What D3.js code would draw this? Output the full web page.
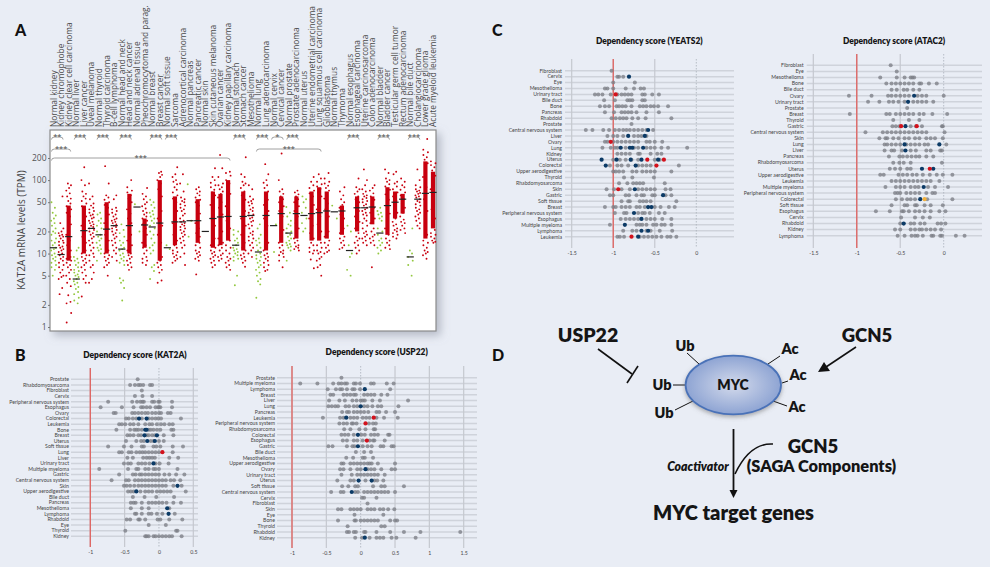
<!DOCTYPE html>
<html>
<head>
<meta charset="utf-8">
<script src="https://cdnjs.cloudflare.com/ajax/libs/d3/7.8.5/d3.min.js"></script>
<style>
html, body { margin: 0; padding: 0; background: #e9edf5; }
svg { display: block; }
</style>
</head>
<body>
<div id="chart"></div>
<script>
// --- panel A: KAT2A mRNA by tissue
var groupNames = ["Normal kidney","Kidney chromophobe","Kidney clear cell carcinoma","Normal liver","Liver cancer","Uveal melanoma","Normal thyroid","Thyroid carcinoma","B-cell lymphoma","Normal head and neck","Head and neck cancer","Normal adrenal tissue","Pheochromocytoma and parag.","Normal breast","Breast cancer","Normal soft tissue","Sarcoma","Adrenocortical carcinoma","Normal pancreas","Pancreatic cancer","Normal skin","Skin cutaneous melanoma","Ovarian cancer","Kidney papillary carcinoma","Normal stomach","Stomach cancer","Mesothelioma","Normal lung","Lung adenocarcinoma","Normal cervix","Cervical cancer","Normal prostate","Prostate adenocarcinoma","Normal uterus","Uterine endometrial carcinoma","Lung squamous cell carcinoma","Glioblastoma","Normal thymus","Thymoma","Normal esophagus","Esophageal carcinoma","Uterine carcinosarcoma","Colon adenocarcinoma","Normal bladder","Bladder cancer","Testicular germ cell tumor","Rectum adenocarcinoma","Normal bile duct","Cholangiocarcinoma","Lower grade glioma","Acute myeloid leukemia"];
var medians = [12,9.7,17,4.5,20.5,22,18,21.5,24,11.5,24,43,24.5,23,26,12,27,27,28,28,20,30,31.5,32,13,32,33,10.5,33,24,35,19,35,33,35,36,38,37,38,11,42,42,43,19,45,50,55,9,55,66,68];
// densest part of each strip (null where the dots stay separate)
var coreLow = [null,null,8,null,10,null,null,10,null,null,10,null,12,null,8,null,13,null,null,14,null,12,13,15,null,11,null,null,11,null,14,null,16,null,15,15,16,null,18,null,20,null,25,null,18,30,35,null,null,16,22];
var coreHigh = [null,null,45,null,45,null,null,50,null,null,65,null,30,null,100,null,60,null,null,55,null,70,65,100,null,70,null,null,70,null,60,null,60,null,70,80,70,null,45,null,60,null,60,null,80,70,65,null,null,180,130];
var strayValues = [
  [50,42,36,33,30,28,26,24,22,20,19,18,16,15,14,13,12,11.5,11,10,9.5,9,8.5,8,7.5,7,6.5,6,5],
  [60,26,22,20,19,18,17.5,17,16,15,14.5,14,13,12.5,12,11.5,11,10.5,10,9.5,9,8.5,8,7.5,7,6.5,6,5.5,5,4.8,4.5,3.4,2.8],
  [90,85,78,72,66,60,56,52,48,44,40,36,32,28,25,22,18,15,13,11,10,9,8.5,8,7.5,7,6.5,6,5.5,5,4.5,4,3.6,2.7,2.2,2.1,1.55,1.15],
  [12,11,9,8.5,8,7.5,7,6.5,6,5.8,5.5,5.2,5,4.8,4.5,4.2,4,3.8,3.5,3.3,3,2.8,2.5,2.3,2.1],
  [150,100,85,70,65,60,56,52,48,44,40,36,32,28,24,20,17,14,12,11,10,9.5,9,8.5,8,7.5,7,6.5,6,5.5,5,4.5,4,2.6],
  [90,60,55,48,45,42,40,38,36,34,33,31,30,28,27,26,25,24,23,22,21,20,19,18,17,16,15,14,13,12,11,10,9.5,9,8,7,6.5,5.5,4.5,4],
  [36,34,30,28,26,24,22,20,18,17,16,15,14,13,12,11.5,11,10,8],
  [155,90,62,58,54,50,46,42,38,34,30,26,22,18,15,13,11,10,9.5,9,8.5,8,7.5,7,6.5,5],
  [62,55,42,40,38,36,34,32,30,29,28,27,26,25,24,23,22,21,20,19,18,17,16,15,14,13,12,11,10,9,8],
  [25,21,19,17,15,14,13,12,11.5,11,10,9.5,9,8.5,8,7.5,7,4.6,4.3,4,3.4,2.3],
  [100,80,72,68,62,56,50,45,40,35,30,26,22,18,15,13,11,10,9.5,9,8.5,8,7.5,7,6.5,6],
  [47,20],
  [78,65,60,55,50,47,44,41,38,36,34,32,30,28,25,22,20,18,16,14,13,12,11,10,9,8.5,8,7.5,7],
  [54,50,46,42,38,36,34,32,30,28,26,24,22,20,18,16,14,13,12,11,10,7,6.5,5.8,4.5],
  [130,125,118,110,100,90,75,60,48,38,30,24,18,14,11,9,8,7.5,7,6.5,6,5.5,4.3,4],
  [13,11.5],
  [150,120,110,100,95,88,80,74,68,62,56,50,44,38,32,26,22,18,15,13,12,11,10.5,10,9.5,9,8.5,8,7.5],
  [120,90,70,58,55,52,50,47,45,42,40,38,35,33,30,28,27,26,25,24,23,22,21,20,19,18,17,16,15,14,13,12,10,9,7],
  [88,28,17],
  [80,75,70,66,62,58,54,50,45,40,35,30,26,22,19,17,15,14,13,12,11,10.5,10,9.5,9,8.5,8,5.2],
  [],
  [145,110,100,92,85,80,74,68,62,54,46,38,30,24,19,16,13,12,11,10.5,10,9.5,9,8.5,8,7.5,7,6.5],
  [220,145,110,90,85,80,75,70,65,58,50,42,34,26,20,16,14,13,12,11,10,9.5,9,8.5,8],
  [130,125,115,100,90,78,65,54,44,36,28,22,18,15,13,12,11,10,9,8.5,8,7.5,7,6.5,6],
  [21,20,18,16,15,14,13,12,11.5,11,10.5,10,9.5,9,8.5,8,5,3.7],
  [205,120,110,95,90,85,78,70,62,54,46,38,30,24,18,14,12,11,10,9.5,9,8.5,8,7.5,6.6],
  [85,75,60,55,52,50,48,45,42,40,38,36,34,33,31,30,28,27,25,24,22,20,19,18,17,16,15,14,13,12,11,10,9],
  [25,22,18,16,15,14,13,12,11,10,9.5,9,8.5,8,7.5,7,6.5,6,5.5,5,4.5,4.2,3.8,2.5],
  [165,120,100,92,85,78,70,62,54,46,38,30,24,18,14,12,11,10,9.5,9,8.5,8,7.5,7,6.5,6,5.8],
  [25,10.5],
  [230,100,75,70,65,60,55,50,44,38,32,26,21,17,14,13,12,11,10.5,10,9.5,9,8,6.5],
  [43,36,32,28,25,24,22,20,19,18,17,16,15,14,13.5,13,12.5,12,11,8],
  [72,68,64,60,55,50,44,38,32,26,22,18,16,15,14,13,12.5,12,11.5,11],
  [60,55,50,42,36,30,26,22,20],
  [110,95,85,78,72,66,60,54,46,38,30,24,19,16,14,13,12,11,10.5,10,8.3,6.3],
  [120,105,95,88,82,76,68,60,50,40,32,25,20,16,14,13,12,11,10.5,10,9,8.5,8,7,6.5,5],
  [125,105,95,90,84,78,72,64,56,48,40,32,26,20,17,15,14,13,12,11,10.5,10],
  [45,30],
  [80,70,62,55,50,46,42,38,34,30,26,22,19,17,16,15,14,13,12,11.5],
  [24,20,13,10,9,6,5],
  [105,80,75,70,65,60,55,50,44,38,32,27,22,19,17,16,15,14,13,12,11,10],
  [140,100,85,75,70,65,62,60,57,55,52,50,47,45,42,40,38,36,34,33,30,28,26,24,22,20,19,18,17,16,15,14,13],
  [85,78,72,66,60,54,48,42,36,30,26,22,20,18,17,16,15,14,13,6.5],
  [42,38,36,34,32,30,28,22,20,18,16,15,14,13,12,11,10],
  [140,125,105,100,95,88,82,74,64,54,44,35,28,22,18,16,15,14,13,12,11.5],
  [130,120,95,90,82,75,68,60,52,44,36,30,27,25,24,22,21,20,19,18,17,16],
  [105,95,85,80,74,68,62,55,48,42,36,32,29,27,26,24,22,21,19],
  [22,11,10,9,8,7,5],
  [140,100,85,80,75,72,70,67,65,62,60,58,55,52,50,47,45,42,40,38,36,34,32,30,28,26,24,22],
  [363,260,240,220,205,190,170,140,110,80,55,38,26,18,15,14,13,12,11,10.5,10,9.5,8.5],
  [180,170,160,150,135,115,95,75,55,40,30,24,21,19,18,17,16,15,14.5,14]
];
var yTicks = [1,2,5,10,20,50,100,200];
// first group, last group, stars, bracket level
var brackets = [[0,1,"**",0],[3,4,"***",0],[6,7,"***",0],[9,10,"***",0],[13,14,"***",0],[15,16,"***",0],[24,25,"***",0],[27,28,"***",0],[29,30,"*",0],[31,32,"***",0],[39,40,"***",0],[43,44,"***",0],[47,48,"***",0],[0,2,"***",1],[27,35,"***",1],[0,23,"***",2]];

// --- panels B and C: dependency scores, one row per lineage
var kat2aRows = ["Prostate","Rhabdomyosarcoma","Fibroblast","Cervix","Peripheral nervous system","Esophagus","Ovary","Colorectal","Leukemia","Bone","Breast","Uterus","Soft tissue","Lung","Liver","Urinary tract","Multiple myeloma","Gastric","Central nervous system","Skin","Upper aerodigestive","Bile duct","Pancreas","Mesothelioma","Lymphoma","Rhabdoid","Eye","Thyroid","Kidney"];
var kat2aValues = [[-0.31],[-0.42,-0.35,-0.3,-0.27,-0.23,-0.13,-0.1],[-0.25],[-0.35,-0.24,-0.1],[-0.74,-0.39,-0.32,-0.27,-0.24,-0.22,-0.1,-0.07,-0.01,0.01,0.19],[-0.85,-0.54,-0.37,-0.26,-0.23,-0.18,-0.13,-0.05,-0.01,0,0.02,0.19],[-0.66,-0.63,-0.39,-0.35,-0.3,-0.25,-0.2,-0.16,-0.1,-0.05,0,0.03,0.13,0.17],[-0.48,-0.44,-0.38,-0.33,-0.25,-0.15,-0.1,-0.05,-0.01,0.03,0.32],[-0.58,-0.54,-0.49,-0.42,-0.37,-0.3,-0.2,-0.14,-0.1,-0.03,0.03,0.08,0.15,0.2],[-0.62,-0.42,-0.36,-0.33,-0.3,-0.25,-0.15,-0.12,-0.08,-0.03,0.02,0.18,0.21],[-0.46,-0.42,-0.37,-0.3,-0.26,-0.18,-0.15,-0.1,-0.06,0.07,0.21],[-0.48,-0.33,-0.26,-0.22,-0.12,-0.08,0,0.07],[-0.74,-0.51,-0.4,-0.25,-0.22,-0.08,-0.04,0.02,0.2,0.35],[-0.58,-0.54,-0.44,-0.4,-0.33,-0.28,-0.24,-0.2,-0.15,-0.1,-0.05,0,0.2],[-0.46,-0.38,-0.23,-0.18,-0.14,-0.1,-0.06,0.15,0.28],[-0.51,-0.45,-0.41,-0.3,-0.25,-0.2,-0.14,-0.05,0.01,0.14],[-0.87,-0.45,-0.33,-0.3,-0.2,-0.15,-0.08,-0.05,0,0.27],[-0.58,-0.38,-0.34,-0.28,-0.25,-0.2,-0.15,-0.1,-0.05,0,0.08,0.15,0.25,0.37],[-0.69,-0.48,-0.44,-0.35,-0.3,-0.25,-0.2,-0.15,-0.1,-0.05,0,0.05,0.1,0.17,0.22,0.31],[-0.51,-0.47,-0.42,-0.36,-0.3,-0.25,-0.2,-0.15,-0.1,-0.05,0,0.05,0.1,0.21,0.33],[-0.45,-0.41,-0.37,-0.27,-0.2,-0.15,-0.1,-0.03,0.02,0.07,0.12,0.17,0.39],[-0.38,-0.21,-0.04,0.22],[-0.41,-0.37,-0.34,-0.25,-0.15,-0.1,-0.05,0,0.05,0.11,0.21,0.32],[-0.41,-0.25,-0.15,0.15],[-0.35,-0.33,-0.25,-0.15,-0.11,-0.03,0.05,0.23],[-0.47,-0.42,-0.3,-0.28,-0.2,-0.02,0.02,0.15,0.34],[-0.15,0.1],[-0.49,0.25,0.27],[-0.2,-0.18,-0.15,-0.08,-0.05,0,0.05,0.1,0.15,0.19,0.33]];
// highlighted lines: [row, value, kind]
var kat2aMarked = [["Colorectal",-0.29,"n"],["Colorectal",-0.18,"n"],["Bone",-0.2,"n"],["Bone",-0.18,"n"],["Breast",-0.21,"n"],["Breast",-0.03,"n"],["Uterus",-0.17,"n"],["Uterus",-0.06,"n"],["Lung",0.05,"r"],["Urinary tract",-0.08,"n"],["Skin",0.27,"n"],["Upper aerodigestive",-0.33,"n"],["Mesothelioma",0.12,"n"],["Lymphoma",0.14,"n"]];

var usp22Rows = ["Prostate","Multiple myeloma","Lymphoma","Breast","Liver","Lung","Pancreas","Leukemia","Peripheral nervous system","Rhabdomyosarcoma","Colorectal","Esophagus","Gastric","Bile duct","Mesothelioma","Upper aerodigestive","Ovary","Urinary tract","Uterus","Soft tissue","Central nervous system","Cervix","Fibroblast","Skin","Eye","Bone","Thyroid","Rhabdoid","Kidney"];
var usp22Values = [[-0.28],[-0.88,-0.63,-0.4,-0.32,-0.28,-0.23,-0.2,-0.1,-0.07,-0.01,0.15,0.19,0.38,0.48],[-0.48,-0.36,-0.3,-0.27,-0.2,-0.12,-0.09,-0.01,0.43],[-0.44,-0.4,-0.25,-0.2,-0.15,-0.1,-0.07,0.05,0.1,0.15,0.2,0.3,0.39],[-0.46,-0.31,-0.23,-0.12,-0.06,0,0.03,0.06,0.17,0.28,0.69],[-0.47,-0.42,-0.37,-0.33,-0.22,-0.17,-0.1,-0.05,0.05,0.1,0.17,0.25,0.3,0.55],[-0.27,-0.2,-0.17,-0.1,-0.05,0,0.05,0.11,0.23,0.27,0.37,0.5],[-0.55,-0.3,-0.25,-0.15,-0.1,-0.05,0.03,0.08,0.13,0.23,0.34,0.54],[-0.31,-0.25,-0.2,-0.13,-0.11,-0.06,0.12,0.18,0.22],[-0.24,-0.15,-0.02,0.07,0.19,0.21],[-0.28,-0.23,-0.18,-0.1,0.01,0.06,0.15,0.2,0.25,0.4,0.42],[-0.26,-0.2,-0.1,-0.05,0.03,0.13,0.18,0.2,0.35],[-0.47,-0.41,-0.2,-0.12,-0.09,0.03,0.1,0.16,0.29,0.33,0.45,0.48],[-0.07,0.05,0.15],[-0.21,-0.11,0.03,0.06,0.18],[-0.28,-0.25,-0.15,-0.1,-0.05,0,0.05,0.1,0.13,0.16,0.25,0.5],[-0.3,-0.25,-0.15,-0.05,0,0.1,0.15,0.2,0.3,0.45,0.5],[-0.28,-0.13,-0.05,0,0.05,0.1,0.15,0.2,0.25,0.35],[-0.34,-0.15,-0.1,0.07,0.2,0.24,0.33],[-0.27,-0.18,-0.08,-0.04,0.18,0.3,0.35,0.63],[-0.43,-0.29,-0.25,-0.08,-0.04,0.05,0.1,0.15,0.2,0.25,0.3,0.35,0.4,0.5],[0.02,0.05,0.23],[0.1],[-0.33,-0.28,-0.15,-0.1,-0.05,0,0.1,0.15,0.2,0.28,0.33,0.4,0.49],[-0.09,0.33],[-0.33,-0.09,-0.07,0,0.05,0.1,0.15,0.2,0.25,0.43,0.5,0.53],[-0.19,0.3,0.35],[-0.2,-0.17,-0.1,-0.07,0.05,0.07,0.23,0.43,0.63,0.87,1.45],[-0.08,0.02,0.13,0.23,0.28,0.33,0.45,0.52,0.8]];
var usp22Marked = [["Lymphoma",0.06,"n"],["Lung",0,"n"],["Leukemia",-0.21,"n"],["Leukemia",0.19,"r"],["Peripheral nervous system",0.07,"r"],["Colorectal",-0.04,"n"],["Esophagus",0.09,"r"],["Gastric",-0.04,"n"],["Ovary",0.07,"n"],["Uterus",-0.03,"n"],["Uterus",0.16,"n"],["Central nervous system",-0.13,"n"],["Kidney",0.06,"n"]];

var yeats2Rows = ["Fibroblast","Cervix","Eye","Mesothelioma","Urinary tract","Bile duct","Bone","Pancreas","Rhabdoid","Prostate","Central nervous system","Liver","Ovary","Lung","Kidney","Uterus","Colorectal","Upper aerodigestive","Thyroid","Rhabdomyosarcoma","Skin","Gastric","Soft tissue","Breast","Peripheral nervous system","Esophagus","Multiple myeloma","Lymphoma","Leukemia"];
var yeats2Values = [[-1.02],[-0.95,-0.93,-0.88],[-1,-0.74],[-1.1,-1.07,-1,-0.85,-0.75,-0.67,-0.63],[-1.22,-1.18,-1.13,-1.03,-0.95,-0.9,-0.86,-0.82,-0.78,-0.65,-0.62,-0.53,-0.45],[-1.11,-0.98,-0.83,-0.8,-0.77,-0.65,-0.62],[-1.16,-1.1,-1.05,-0.96,-0.93,-0.89,-0.85,-0.78,-0.68,-0.64,-0.6,-0.55,-0.51,-0.46,-0.34],[-1.1,-0.99,-0.9,-0.86,-0.82,-0.78,-0.72,-0.6,-0.45],[-1.02,-0.97,-0.92,-0.88,-0.84,-0.77,-0.7,-0.61,-0.3],[-0.78],[-1.33,-1.25,-1.12,-1.05,-0.98,-0.93,-0.88,-0.84,-0.8,-0.75,-0.7,-0.65,-0.6,-0.52],[-1.07,-1,-0.95,-0.88,-0.75,-0.7,-0.66,-0.6],[-1.1,-1.07,-1,-0.95,-0.9,-0.85,-0.8,-0.75,-0.7,-0.6,-0.56,-0.5,-0.41],[-1.13,-1.03,-0.98,-0.95,-0.85,-0.75,-0.7,-0.6,-0.55,-0.5,-0.42,-0.34,-0.11],[-0.95,-0.9,-0.85,-0.8,-0.7,-0.68,-0.55,-0.47,-0.42],[-1,-0.92,-0.85,-0.78,-0.7,-0.5,-0.44],[-1.04,-0.95,-0.9,-0.82,-0.7,-0.65,-0.6,-0.55,-0.21],[-1,-0.97,-0.93,-0.88,-0.77,-0.72,-0.65,-0.6,-0.55,-0.5,-0.3],[-0.87,-0.77,-0.51],[-0.93,-0.83,-0.76,-0.72,-0.68,-0.64,-0.38],[-1.08,-0.99,-0.9,-0.8,-0.7,-0.65,-0.6,-0.55,-0.5,-0.37,-0.31],[-1.04,-1,-0.85,-0.81,-0.72,-0.66,-0.63,-0.53,-0.5,-0.37,-0.3],[-0.9,-0.82,-0.8,-0.68,-0.64,-0.6,-0.55,-0.24],[-1.1,-1,-0.97,-0.9,-0.85,-0.8,-0.72,-0.68,-0.62,-0.5,-0.43,-0.33,-0.26],[-0.98,-0.87,-0.84,-0.7,-0.65,-0.62,-0.56,-0.45,-0.38],[-0.91,-0.85,-0.8,-0.75,-0.7,-0.6,-0.55,-0.5,-0.41,-0.3],[-1.04,-0.72,-0.68,-0.65,-0.6,-0.52,-0.48,-0.42,-0.38,-0.3],[-0.88,-0.77,-0.72,-0.6,-0.55,-0.44,-0.29],[-0.95,-0.92,-0.87,-0.68,-0.63,-0.58,-0.53,-0.48,-0.42,-0.35,-0.31,-0.24]];
var yeats2Marked = [["Cervix",-0.81,"n"],["Urinary tract",-0.97,"r"],["Central nervous system",-0.58,"n"],["Liver",-0.82,"n"],["Liver",-0.62,"n"],["Ovary",-1.03,"r"],["Lung",-0.91,"n"],["Lung",-0.8,"n"],["Lung",-0.77,"n"],["Lung",-0.64,"n"],["Uterus",-1.14,"n"],["Uterus",-0.96,"n"],["Uterus",-0.79,"n"],["Uterus",-0.66,"n"],["Uterus",-0.46,"n"],["Uterus",-0.59,"r"],["Uterus",-0.39,"r"],["Colorectal",-1.09,"n"],["Colorectal",-0.73,"n"],["Colorectal",-0.48,"r"],["Skin",-0.74,"n"],["Skin",-0.94,"r"],["Gastric",-0.4,"n"],["Breast",-0.58,"n"],["Breast",-0.54,"n"],["Peripheral nervous system",-0.75,"n"],["Esophagus",-0.66,"n"],["Multiple myeloma",-0.86,"n"],["Lymphoma",-0.66,"n"],["Lymphoma",-0.58,"n"],["Leukemia",-0.78,"r"],["Leukemia",-0.7,"n"]];

var atac2Rows = ["Fibroblast","Eye","Mesothelioma","Bone","Bile duct","Ovary","Urinary tract","Prostate","Breast","Thyroid","Gastric","Central nervous system","Skin","Lung","Liver","Pancreas","Rhabdomyosarcoma","Uterus","Upper aerodigestive","Leukemia","Multiple myeloma","Peripheral nervous system","Colorectal","Soft tissue","Esophagus","Cervix","Rhabdoid","Kidney","Lymphoma"];
var atac2Values = [[-0.61],[-0.54],[-0.73,-0.54,-0.45,-0.38,-0.36,-0.34],[-0.66,-0.6,-0.55,-0.5,-0.45,-0.4,-0.35,-0.28,-0.26,-0.17,-0.08],[-0.6,-0.54,-0.46,-0.42,-0.35,-0.28],[-1.09,-0.83,-0.64,-0.6,-0.55,-0.5,-0.45,-0.4,-0.3,-0.25,-0.2,0],[-0.87,-0.74,-0.63,-0.58,-0.52,-0.45,-0.35,-0.3,-0.25,-0.2,-0.12],[-0.42],[-1.08,-0.66,-0.62,-0.55,-0.5,-0.45,-0.4,-0.35,-0.28,-0.23,-0.13,0.04],[-0.58,-0.4,-0.28],[-0.59,-0.55,-0.51,-0.38,-0.32,-0.25,-0.02,-0.01],[-0.9,-0.7,-0.65,-0.6,-0.55,-0.5,-0.45,-0.4,-0.35,-0.3,-0.25,-0.2,0.01],[-0.74,-0.67,-0.65,-0.58,-0.52,-0.45,-0.4,-0.33,-0.28,-0.2,-0.15,-0.1,-0.01],[-0.68,-0.65,-0.6,-0.55,-0.5,-0.43,-0.38,-0.33,-0.28,-0.22,-0.18,0.03],[-0.68,-0.6,-0.57,-0.48,-0.38,-0.32,-0.2,-0.15,-0.04,-0.02],[-0.63,-0.51,-0.47,-0.42,-0.37,-0.32,-0.28,-0.2,-0.12],[-0.58,-0.51,-0.46,-0.38,-0.02],[-0.62,-0.56,-0.5,-0.42,-0.38],[-0.73,-0.69,-0.52,-0.47,-0.42,-0.36,-0.31,-0.24,-0.16,-0.08,-0.01,0.1],[-0.6,-0.55,-0.5,-0.45,-0.4,-0.35,-0.3,-0.25,-0.2,-0.15,-0.05],[-0.67,-0.55,-0.5,-0.45,-0.38,-0.33,-0.29,-0.18,-0.1,0.05],[-0.56,-0.53,-0.5,-0.43,-0.38,-0.33,-0.28,-0.2,-0.13,-0.1],[-0.55,-0.48,-0.42,-0.38,-0.33,-0.19,0.1],[-0.6,-0.45,-0.42,-0.33,-0.31,-0.22,-0.15,-0.01],[-0.78,-0.62,-0.48,-0.46,-0.4,-0.33,-0.28,-0.22,-0.15,-0.05,0.02],[-0.49,-0.33,-0.24,-0.16],[-0.5,-0.38,-0.34,-0.27,-0.22,-0.07,-0.03,0.02],[-0.56,-0.5,-0.38,-0.33,-0.28,-0.25,-0.2,-0.15,-0.1,-0.03],[-0.53,-0.45,-0.37,-0.33,-0.3,-0.24,-0.14,-0.12,-0.04,-0.02,0.14,0.24]];
var atac2Marked = [["Ovary",-0.34,"n"],["Urinary tract",-0.41,"n"],["Gastric",-0.44,"n"],["Gastric",-0.49,"r"],["Gastric",-0.31,"r"],["Lung",-0.45,"n"],["Lung",-0.05,"n"],["Liver",-0.44,"n"],["Uterus",-0.25,"n"],["Uterus",-0.12,"n"],["Uterus",-0.16,"r"],["Multiple myeloma",-0.23,"n"],["Colorectal",-0.27,"n"],["Colorectal",-0.22,"o"],["Rhabdoid",-0.46,"n"]];

var W = 990, H = 567;
var svg = d3.select("#chart").append("svg").attr("width", W).attr("height", H);
svg.append("rect").attr("width", W).attr("height", H).attr("fill", "#e9edf5");

var defs = svg.append("defs");
var shadow = defs.append("filter").attr("id", "boxShadow").attr("x", "-5%").attr("y", "-5%").attr("width", "115%").attr("height", "120%");
shadow.append("feDropShadow").attr("dx", 4).attr("dy", 4).attr("stdDeviation", 4).attr("flood-color", "#8a90a0").attr("flood-opacity", 0.55);
var ballFill = defs.append("radialGradient").attr("id", "mycFill");
ballFill.append("stop").attr("offset", "15%").attr("stop-color", "#c9d2e8");
ballFill.append("stop").attr("offset", "100%").attr("stop-color", "#8ea4d3");
var ballShadow = defs.append("filter").attr("id", "ballShadow").attr("x", "-20%").attr("y", "-20%").attr("width", "140%").attr("height", "150%");
ballShadow.append("feDropShadow").attr("dx", 0).attr("dy", 2).attr("stdDeviation", 2).attr("flood-color", "#666").attr("flood-opacity", 0.5);

var textFont = "Lato, 'Open Sans', sans-serif";
var letters = [["A",15,36],["B",15,361],["C",492,36],["D",492,361]];
svg.selectAll(".letter").data(letters).enter().append("text")
  .attr("x", function(d) { return d[1]; })
  .attr("y", function(d) { return d[2]; })
  .attr("font-family", textFont).attr("font-weight", 900).attr("font-size", 16).attr("fill", "#111")
  .text(function(d) { return d[0]; });

// PANEL A
var boxL = 50, boxR = 436, boxT = 130, boxB = 331;
svg.append("rect").attr("x", boxL).attr("y", boxT).attr("width", boxR - boxL).attr("height", boxB - boxT)
  .attr("fill", "#fff").attr("stroke", "#8b8b8b").attr("stroke-width", 1.2).attr("filter", "url(#boxShadow)");

var xA = d3.scalePoint().domain(groupNames).range([53.5, 433]);
var yA = d3.scaleLog().domain([1, 200]).range([327, 158]);
var isNormal = function(name) { return name.indexOf("Normal") == 0; };

var axisA = d3.axisLeft(yA).tickValues(yTicks).tickFormat(d3.format("d")).tickSize(2).tickPadding(1.5);
var gAxis = svg.append("g").attr("transform", "translate(" + boxL + ",0)").call(axisA);
gAxis.select(".domain").remove();
gAxis.selectAll("line").attr("stroke", "#777");
gAxis.selectAll("text").attr("font-family", "'Open Sans', sans-serif").attr("font-size", 8.5).attr("fill", "#555");

svg.append("text").attr("transform", "translate(25,230) rotate(-90)").attr("text-anchor", "middle")
  .attr("font-family", "'Open Sans', sans-serif").attr("font-size", 10).attr("fill", "#444").text("KAT2A mRNA levels (TPM)");

svg.selectAll(".groupLabel").data(groupNames).enter().append("text")
  .attr("transform", function(d) { return "translate(" + (xA(d) + 3) + ",127) rotate(-90)"; })
  .attr("font-family", "'Open Sans', sans-serif").attr("font-size", 8.3).attr("fill", "#4a4a4a").text(function(d) { return d; });

// jitter pattern for the strips
var jitter = [-2, 1.4, -0.8, 2.3, 0.4, -2.4, 1.1, -1.5, 2.1, -0.4, 1.8, -2.1, 2.5];
groupNames.forEach(function(name, i) {
  var cx = xA(name);
  var colour = isNormal(name) ? "#93c83e" : "#c8000f";
  if (coreLow[i] != null) {
    svg.append("rect").attr("x", cx - 2.1).attr("width", 4.2)
      .attr("y", yA(coreHigh[i])).attr("height", yA(coreLow[i]) - yA(coreHigh[i]))
      .attr("fill", colour);
  }
  svg.append("g").selectAll("circle").data(strayValues[i]).enter().append("circle")
    .attr("cx", function(d, k) { return cx + jitter[(k + i) % jitter.length]; })
    .attr("cy", function(d) { return yA(d); })
    .attr("r", 0.95).attr("fill", colour);
});
svg.append("g").selectAll("line").data(groupNames).enter().append("line")
  .attr("x1", function(d) { return xA(d) - 3.6; }).attr("x2", function(d) { return xA(d) + 3.6; })
  .attr("y1", function(d, i) { return yA(medians[i]); }).attr("y2", function(d, i) { return yA(medians[i]); })
  .attr("stroke", "#222").attr("stroke-width", 1.2);

var levelY = [137, 149, 158];
var bracketG = svg.append("g").selectAll("g").data(brackets).enter().append("g");
bracketG.append("path").attr("fill", "none").attr("stroke", "#888").attr("stroke-width", 0.8)
  .attr("d", function(b) {
    var x0 = xA(groupNames[b[0]]) - 2, x1 = xA(groupNames[b[1]]) + 2, y = levelY[b[3]];
    return "M" + x0 + "," + (y + 2.5) + "Q" + x0 + "," + y + " " + (x0 + 3) + "," + y + "L" + (x1 - 3) + "," + y + "Q" + x1 + "," + y + " " + x1 + "," + (y + 2.5);
  });
bracketG.append("text").attr("text-anchor", "middle").attr("font-family", "'Open Sans', sans-serif")
  .attr("font-size", 7.5).attr("font-weight", 600).attr("fill", "#666")
  .attr("x", function(b) { return (xA(groupNames[b[0]]) + xA(groupNames[b[1]])) / 2; })
  .attr("y", function(b) { return levelY[b[3]] + 2; })
  .text(function(b) { return b[2]; });

// PANELS B, C
var markColour = { n: "#0b3a66", r: "#d3111c", o: "#f3b13c" };
function drawPanel(p) {
  var x = d3.scaleLinear().domain(p.xDomain).range(p.xRange);
  var y = d3.scalePoint().domain(p.rows).range(p.yRange);
  var g = svg.append("g");

  g.append("text").attr("x", p.titleX).attr("y", p.titleY).attr("text-anchor", "middle")
    .attr("font-family", textFont).attr("font-weight", 800).attr("font-size", p.titleSize).attr("fill", "#151515").text(p.title);

  g.selectAll(".row").data(p.rows).enter().append("line")
    .attr("x1", p.rowX[0]).attr("x2", p.rowX[1])
    .attr("y1", function(d) { return y(d); }).attr("y2", function(d) { return y(d); })
    .attr("stroke", "#cfd3db").attr("stroke-width", 1.5);

  g.selectAll(".grid").data(p.ticks).enter().append("line")
    .attr("x1", function(d) { return x(d); }).attr("x2", function(d) { return x(d); })
    .attr("y1", p.vTop).attr("y2", p.vBottom)
    .attr("stroke", function(d) { return d == 0 ? "#aab0ba" : "#c5c8cf"; })
    .attr("stroke-width", function(d) { return d == 0 ? 0.8 : 1.2; })
    .attr("stroke-dasharray", function(d) { return d == 0 ? "1.5,1.5" : null; });

  g.append("line").attr("x1", x(-1)).attr("x2", x(-1)).attr("y1", p.vTop).attr("y2", p.vBottom)
    .attr("stroke", "#e0625f").attr("stroke-width", 1.3);

  var dots = [];
  p.rows.forEach(function(r, i) { p.values[i].forEach(function(v) { dots.push([r, v]); }); });
  g.append("g").selectAll("circle").data(dots).enter().append("circle")
    .attr("cx", function(d) { return x(d[1]); }).attr("cy", function(d) { return y(d[0]); })
    .attr("r", 2).attr("fill", "#7c7f86").attr("fill-opacity", 0.78);
  g.append("g").selectAll("circle").data(p.marked).enter().append("circle")
    .attr("cx", function(d) { return x(d[1]); }).attr("cy", function(d) { return y(d[0]); })
    .attr("r", 2.1).attr("fill", function(d) { return markColour[d[2]]; });

  g.selectAll(".rowLabel").data(p.rows).enter().append("text")
    .attr("x", p.labelX).attr("y", function(d) { return y(d) + 1.8; }).attr("text-anchor", "end")
    .attr("font-family", textFont).attr("font-size", 5.2).attr("fill", "#444").text(function(d) { return d; });

  var axis = d3.axisBottom(x).tickValues(p.ticks).tickSize(0).tickFormat(function(d) { return String(d); });
  var gx = g.append("g").attr("transform", "translate(0," + p.tickY + ")").call(axis);
  gx.select(".domain").remove();
  gx.selectAll("text").attr("font-family", textFont).attr("font-size", 5.2).attr("fill", "#444").attr("dy", 0).attr("y", 0);
}

drawPanel({ title: "Dependency score (KAT2A)", titleX: 135, titleY: 357.5, titleSize: 8.4, rows: kat2aRows, values: kat2aValues, marked: kat2aMarked,
  xDomain: [-1, 0.5], xRange: [90.3, 193.3], yRange: [379.3, 536.3], rowX: [71, 198], vTop: 368, vBottom: 547, ticks: [-1, -0.5, 0, 0.5], tickY: 554, labelX: 69 });
drawPanel({ title: "Dependency score (USP22)", titleX: 376.7, titleY: 354.5, titleSize: 8.4, rows: usp22Rows, values: usp22Values, marked: usp22Marked,
  xDomain: [-1, 1.5], xRange: [292, 463.7], yRange: [377.7, 537.7], rowX: [277, 477], vTop: 366, vBottom: 548, ticks: [-1, -0.5, 0, 0.5, 1, 1.5], tickY: 555, labelX: 275 });
drawPanel({ title: "Dependency score (YEATS2)", titleX: 649.3, titleY: 43.5, titleSize: 8.4, rows: yeats2Rows, values: yeats2Values, marked: yeats2Marked,
  xDomain: [-1.5, 0], xRange: [571.7, 696.3], yRange: [70.7, 236.7], rowX: [565, 734], vTop: 59, vBottom: 248, ticks: [-1.5, -1, -0.5, 0], tickY: 255, labelX: 562 });
drawPanel({ title: "Dependency score (ATAC2)", titleX: 894, titleY: 43.5, titleSize: 8.4, rows: atac2Rows, values: atac2Values, marked: atac2Marked,
  xDomain: [-1.5, 0], xRange: [813.3, 943.7], yRange: [65.3, 235.7], rowX: [806.7, 982], vTop: 54, vBottom: 248, ticks: [-1.5, -1, -0.5, 0], tickY: 255, labelX: 803.7 });

// PANEL D - MYC schematic
var gd = svg.append("g").attr("stroke-linecap", "butt");
var thinLines = [[687,353,699,364],[673,385,686,385],[675,410,693,401],[780,356,768,364],[788,381,782,383],[787,406,773,401]];
gd.selectAll(".spoke").data(thinLines).enter().append("line")
  .attr("x1", function(d) { return d[0]; }).attr("y1", function(d) { return d[1]; })
  .attr("x2", function(d) { return d[2]; }).attr("y2", function(d) { return d[3]; })
  .attr("stroke", "#111").attr("stroke-width", 1);
gd.append("ellipse").attr("cx", 733.3).attr("cy", 385).attr("rx", 47.7).attr("ry", 29.3)
  .attr("fill", "url(#mycFill)").attr("stroke", "#4a72b8").attr("stroke-width", 1.8).attr("filter", "url(#ballShadow)");

var dLabels = [["MYC",733,390,14,800,null],["Ub",685,351,14.5,800,null],["Ub",662,390,14.5,800,null],["Ub",664,418,14.5,800,null],["Ac",790,354,14.5,800,null],["Ac",798,380,14.5,800,null],["Ac",797,412,14.5,800,null],
  ["USP22",588,342,19.5,800,null],["GCN5",867,342,18.5,800,null],["GCN5",813,453,18.5,800,null],["(SAGA Components)",821.5,472,16.4,800,null],["MYC target genes",733.5,520,20,800,null],["Coactivator",698,471,12.3,800,"italic"]];
gd.selectAll(".dLabel").data(dLabels).enter().append("text")
  .attr("x", function(d) { return d[1]; }).attr("y", function(d) { return d[2]; }).attr("text-anchor", "middle")
  .attr("font-family", textFont).attr("font-size", function(d) { return d[3]; }).attr("font-weight", function(d) { return d[4]; })
  .attr("font-style", function(d) { return d[5]; }).attr("fill", "#151515").text(function(d) { return d[0]; });

gd.append("line").attr("x1", 598).attr("y1", 349).attr("x2", 632).attr("y2", 374).attr("stroke", "#111").attr("stroke-width", 1.6);
gd.append("line").attr("x1", 638).attr("y1", 366).attr("x2", 627).attr("y2", 383).attr("stroke", "#111").attr("stroke-width", 1.6);
gd.append("line").attr("x1", 856).attr("y1", 347).attr("x2", 823).attr("y2", 369).attr("stroke", "#111").attr("stroke-width", 1.6);
gd.append("path").attr("d", "M818,372L824,362L830,371Z").attr("fill", "#111");
gd.append("line").attr("x1", 733.5).attr("y1", 429).attr("x2", 733.5).attr("y2", 491).attr("stroke", "#111").attr("stroke-width", 1.8);
gd.append("path").attr("d", "M729.5,490L737.5,490L733.5,498Z").attr("fill", "#111");
gd.append("path").attr("d", "M773,444C756,443 744,455 735,474").attr("fill", "none").attr("stroke", "#111").attr("stroke-width", 1.6);
</script>
</body>
</html>
